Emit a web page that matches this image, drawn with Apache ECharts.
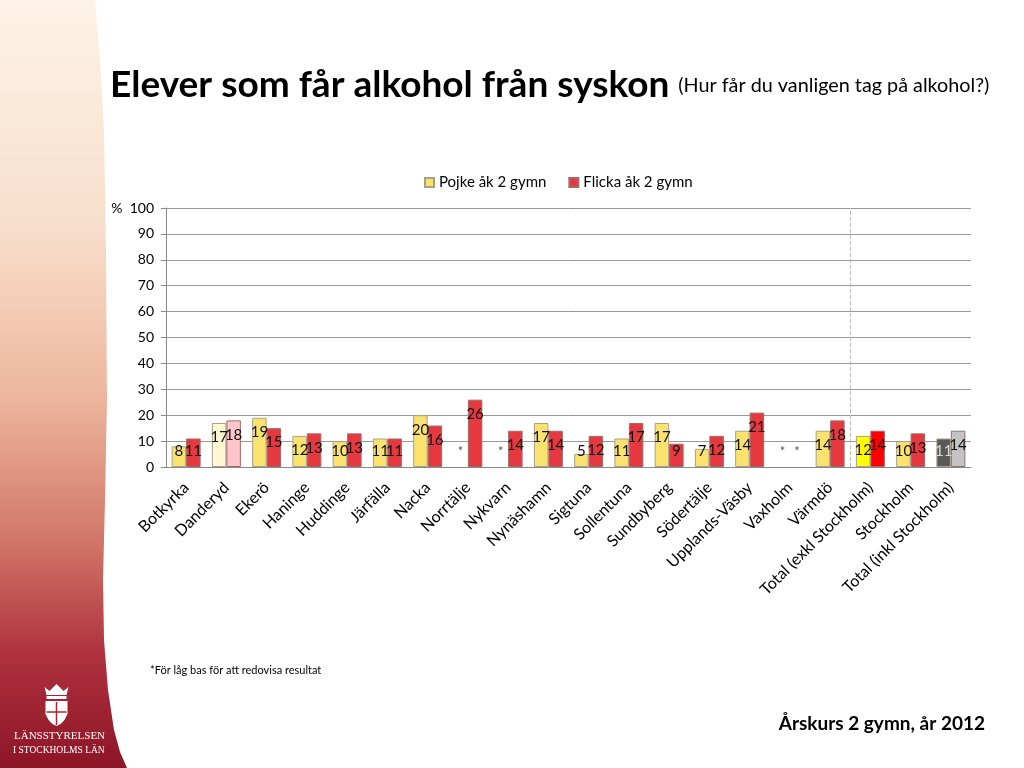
<!DOCTYPE html>
<html>
<head>
<meta charset="utf-8">
<title>Elever som får alkohol från syskon</title>
<script src="https://cdn.jsdelivr.net/npm/echarts@6/dist/echarts.min.js"></script>
<style>
  html, body { margin: 0; padding: 0; background: #fff; }
  #main { width: 1024px; height: 768px; }
</style>
</head>
<body>
<div id="main"></div>
<script>
// kommuner och totaler
var categories = ['Botkyrka', 'Danderyd', 'Ekerö', 'Haninge', 'Huddinge', 'Järfälla', 'Nacka',
  'Norrtälje', 'Nykvarn', 'Nynäshamn', 'Sigtuna', 'Sollentuna', 'Sundbyberg', 'Södertälje',
  'Upplands-Väsby', 'Vaxholm', 'Värmdö', 'Total (exkl Stockholm)', 'Stockholm', 'Total (inkl Stockholm)'];
// null = för låg bas (*)
var pojke = [8, 17, 19, 12, 10, 11, 20, null, null, 17, 5, 11, 17, 7, 14, null, 14, 12, 10, 11];
var flicka = [11, 18, 15, 13, 13, 11, 16, 26, 14, 14, 12, 17, 9, 12, 21, null, 18, 14, 13, 14];
var yTicks = [0, 10, 20, 30, 40, 50, 60, 70, 80, 90, 100];
var splitAfter = 17; // streckad linje efter Värmdö

var pojkeColor = '#F9E36E', flickaColor = '#E6393F';
// avvikande färger för vissa staplar
var specialColors = {
  1: ['#FFF8D2', '#FFC6C9'],
  17: ['#FFFF00', '#FF0000'],
  19: ['#5A5A5A', '#C3C3C3']
};

function buildData(values, s) {
  return values.map(function (v, i) {
    if (v === null) {
      return {
        value: 0,
        itemStyle: { borderWidth: 0 },
        label: { show: true, formatter: '*', position: 'insideBottom', distance: 9, color: '#555', fontSize: 13 }
      };
    }
    var item = { value: v, label: {} };
    if (v >= 12) {
      item.label.position = 'insideTop';
      item.label.distance = 7;
    } else {
      item.label.position = 'insideBottom';
      item.label.distance = 8;
    }
    if (specialColors[i]) {
      item.itemStyle = { color: specialColors[i][s] };
      if (i === 19 && s === 0) item.label.color = '#ddd';
    }
    return item;
  });
}

var chart = echarts.init(document.getElementById('main'));

var barLabel = { show: true, color: '#111', fontSize: 15, fontFamily: 'Lato' };

var stripPoints = [[0, 0], [95, 0], [100, 60], [104, 130], [106, 250], [107, 400], [105, 500],
  [103, 580], [104, 640], [108, 690], [114, 730], [120, 752], [127, 768], [0, 768]];

var option = {
  backgroundColor: '#fff',
  animation: false,
  textStyle: { fontFamily: 'Lato' },
  title: {
    left: 105,
    top: 62,
    text: '{b|Elever som får alkohol från syskon}  {s|(Hur får du vanligen tag på alkohol?)}',
    textStyle: {
      rich: {
        b: { fontSize: 37, fontWeight: 'bold', color: '#000', fontFamily: 'Lato' },
        s: { fontSize: 19.8, fontWeight: 'normal', color: '#000', fontFamily: 'Lato' }
      }
    }
  },
  legend: {
    data: ['Pojke åk 2 gymn', 'Flicka åk 2 gymn'],
    left: 419,
    top: 170,
    icon: 'rect',
    itemWidth: 9,
    itemHeight: 9,
    itemGap: 22,
    textStyle: { fontSize: 15, color: '#000', fontFamily: 'Lato' }
  },
  grid: { left: 166, right: 53, top: 208, bottom: 301, containLabel: false },
  xAxis: [{
    type: 'category',
    data: categories,
    axisLine: { lineStyle: { color: '#888' } },
    axisTick: { length: 5, lineStyle: { color: '#888' } },
    axisLabel: { rotate: 45, fontSize: 16, color: '#000', margin: 18, interval: 0, fontFamily: 'Lato' }
  }, {
    type: 'value', min: 0, max: categories.length, show: false
  }],
  yAxis: {
    type: 'value',
    min: yTicks[0],
    max: yTicks[yTicks.length - 1],
    interval: 10,
    axisLine: { show: true, lineStyle: { color: '#888' } },
    axisTick: { show: true, length: 5, lineStyle: { color: '#888' } },
    axisLabel: {
      fontSize: 14, color: '#000', margin: 12, fontFamily: 'Lato',
      formatter: function (v) { return v === 100 ? '%  100' : v; }
    },
    splitLine: { lineStyle: { color: '#999', width: 1 } }
  },
  series: [{
    name: 'Pojke åk 2 gymn',
    type: 'bar',
    data: buildData(pojke, 0),
    barGap: '0%',
    barCategoryGap: '28%',
    itemStyle: { color: pojkeColor, borderColor: '#a8a08a', borderWidth: 1 },
    label: barLabel
  }, {
    name: 'Flicka åk 2 gymn',
    type: 'bar',
    data: buildData(flicka, 1),
    itemStyle: { color: flickaColor, borderColor: '#a06a6a', borderWidth: 1 },
    label: barLabel
  }, {
    type: 'line',
    xAxisIndex: 1,
    data: [],
    markLine: {
      silent: true,
      symbol: 'none',
      label: { show: false },
      lineStyle: { type: 'dashed', color: '#bbb', width: 1 },
      data: [{ xAxis: splitAfter }]
    }
  }],
  graphic: [
    {
      type: 'polygon',
      z: -10,
      shape: { points: stripPoints },
      style: {
        fill: new echarts.graphic.LinearGradient(0, 0, 0, 1, [
          { offset: 0, color: '#FDF3E6' },
          { offset: 0.3, color: '#F8DECB' },
          { offset: 0.52, color: '#EDB59D' },
          { offset: 0.7, color: '#D2786A' },
          { offset: 0.85, color: '#B0323F' },
          { offset: 1, color: '#8C1526' }
        ])
      }
    },
    // vapen (förenklat)
    {
      type: 'group',
      left: 44,
      top: 684,
      children: [
        { type: 'polygon', shape: { points: [[4, 12], [2, 4], [7, 8], [14, 1], [21, 8], [26, 4], [24, 12]] }, style: { fill: '#fff' } },
        { type: 'rect', shape: { x: 4, y: 13, width: 20, height: 3 }, style: { fill: '#fff' } },
        { type: 'polygon', shape: { points: [[3, 18], [25, 18], [25, 31], [22, 37], [18, 41], [14, 43], [10, 41], [6, 37], [3, 31]] }, style: { fill: '#fff' } },
        { type: 'line', shape: { x1: 14, y1: 19, x2: 14, y2: 42 }, style: { stroke: '#A82636', lineWidth: 1.5 } },
        { type: 'line', shape: { x1: 4, y1: 29, x2: 24, y2: 29 }, style: { stroke: '#A82636', lineWidth: 1.5 } }
      ]
    },
    {
      type: 'text', left: 14, top: 731,
      style: { text: 'LÄNSSTYRELSEN', fill: '#fff', font: '11px "Liberation Serif", serif' }
    },
    {
      type: 'text', left: 13, top: 745,
      style: { text: 'I STOCKHOLMS LÄN', fill: '#fff', font: '9.5px "Liberation Serif", serif' }
    },
    {
      type: 'text', left: 150, top: 665,
      style: { text: '*För låg bas för att redovisa resultat', fill: '#000', font: '11px Lato' }
    },
    {
      type: 'text', right: 39, top: 714,
      style: { text: 'Årskurs 2 gymn, år 2012', fill: '#000', font: 'bold 19px Lato' }
    }
  ]
};

chart.setOption(option);
</script>
</body>
</html>
